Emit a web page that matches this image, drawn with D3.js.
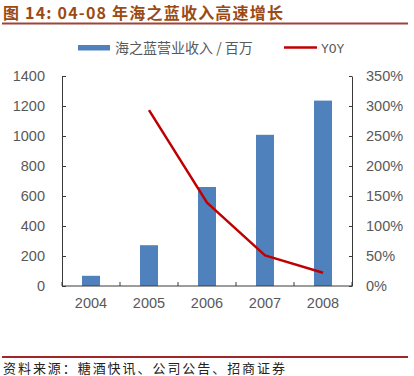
<!DOCTYPE html>
<html>
<head>
<meta charset="utf-8">
<script src="https://cdn.jsdelivr.net/npm/d3@7/dist/d3.min.js"></script>
<style>
	body { margin: 0; background: #fff; }
	svg { display: block; }
</style>
</head>
<body>
<svg id="chart" width="414" height="376"></svg>
<script>
// data
var years = ["2004", "2005", "2006", "2007", "2008"];
var revenue = [68, 272, 660, 1008, 1236];          // 海之蓝营业收入 / 百万
var yoy = [null, 2.93, 1.39, 0.51, 0.22];          // YOY
var leftTicks = [0, 200, 400, 600, 800, 1000, 1200, 1400];
var rightTicks = [0, 0.5, 1, 1.5, 2, 2.5, 3, 3.5];

var svg = d3.select("#chart");
var margin = {top: 76, left: 62, right: 352, bottom: 286};
var axisColor = "#3a3a3a",
	labelColor = "#595959",
	barColor = "#4f81bd",
	lineColor = "#c00000";

// title + rule
svg.append("text")
	.attr("x", 3)
	.attr("y", 19)
	.attr("font-family", "'Noto Sans CJK SC', sans-serif")
	.attr("font-weight", "bold")
	.attr("font-size", 16)
	.attr("fill", "#9b4a14")
	.attr("textLength", 280)
	.attr("lengthAdjust", "spacing")
	.text("图 14:  04-08 年海之蓝收入高速增长");

svg.append("line")
	.attr("x1", 2).attr("x2", 408)
	.attr("y1", 23.5).attr("y2", 23.5)
	.attr("stroke", "#a0443a")
	.attr("stroke-width", 2);

// scales
var x = d3.scaleBand()
	.domain(years)
	.range([margin.left, margin.right])
	.paddingInner(0.69)
	.paddingOuter(0.345);

var y = d3.scaleLinear()
	.domain([0, 1400])
	.range([margin.bottom, margin.top]);

var y2 = d3.scaleLinear()
	.domain([0, 3.5])
	.range([margin.bottom, margin.top]);

// bars
svg.append("g")
	.selectAll("rect")
	.data(years)
	.enter().append("rect")
	.attr("x", function(d) { return x(d); })
	.attr("width", x.bandwidth())
	.attr("y", function(d, i) { return y(revenue[i]); })
	.attr("height", function(d, i) { return y(0) - y(revenue[i]); })
	.attr("fill", barColor);

// axes
var leftAxis = svg.append("g")
	.attr("transform", "translate(" + margin.left + ",0)")
	.call(d3.axisLeft(y).tickValues(leftTicks).tickSizeInner(-4).tickSizeOuter(0).tickPadding(17)
		.tickFormat(d3.format("d")));

var rightAxis = svg.append("g")
	.attr("transform", "translate(" + margin.right + ",0)")
	.call(d3.axisRight(y2).tickValues(rightTicks).tickSizeInner(-3).tickSizeOuter(0).tickPadding(14)
		.tickFormat(function(d) { return Math.round(d * 100) + "%"; }));

var xTicks = d3.range(years.length + 1).map(function(i) { return margin.left + i * x.step(); });
var bottomAxis = svg.append("g")
	.attr("transform", "translate(0," + margin.bottom + ")");
bottomAxis.append("line")
	.attr("x1", margin.left).attr("x2", margin.right)
	.attr("stroke", axisColor);
bottomAxis.selectAll(".tick")
	.data(xTicks)
	.enter().append("line")
	.attr("x1", function(d) { return d; })
	.attr("x2", function(d) { return d; })
	.attr("y1", 0).attr("y2", -4)
	.attr("stroke", axisColor);
bottomAxis.selectAll(".lbl")
	.data(years)
	.enter().append("text")
	.attr("x", function(d) { return x(d) + x.bandwidth() / 2; })
	.attr("y", 22)
	.attr("text-anchor", "middle")
	.text(function(d) { return d; });

[leftAxis, rightAxis].forEach(function(a) {
	a.select(".domain").attr("stroke", axisColor);
	a.selectAll(".tick line").attr("stroke", axisColor);
});
svg.selectAll("g text")
	.attr("font-family", "'Liberation Sans', Arial, sans-serif")
	.attr("font-size", 14.5)
	.attr("fill", labelColor);

// YOY line
var line = d3.line()
	.defined(function(d) { return d.v !== null; })
	.x(function(d) { return x(d.year) + x.bandwidth() / 2; })
	.y(function(d) { return y2(d.v); });

svg.append("path")
	.datum(years.map(function(yr, i) { return {year: yr, v: yoy[i]}; }))
	.attr("d", line)
	.attr("fill", "none")
	.attr("stroke", lineColor)
	.attr("stroke-width", 2.5)
	.attr("stroke-linejoin", "round");

// legend
var legend = svg.append("g");
legend.append("rect")
	.attr("x", 78).attr("y", 45)
	.attr("width", 32).attr("height", 5.5)
	.attr("fill", barColor);
legend.append("text")
	.attr("x", 115).attr("y", 53)
	.attr("font-family", "'Noto Sans CJK SC', sans-serif")
	.attr("font-size", 14)
	.attr("fill", labelColor)
	.text("海之蓝营业收入 / 百万");
legend.append("line")
	.attr("x1", 284).attr("x2", 317)
	.attr("y1", 47.5).attr("y2", 47.5)
	.attr("stroke", lineColor)
	.attr("stroke-width", 2.5);
legend.append("text")
	.attr("x", 321).attr("y", 53)
	.attr("font-family", "'Liberation Mono', monospace")
	.attr("font-size", 13)
	.attr("fill", labelColor)
	.text("YOY");

// source rule + note
svg.append("line")
	.attr("x1", 2).attr("x2", 408)
	.attr("y1", 357).attr("y2", 357)
	.attr("stroke", "#a0262b")
	.attr("stroke-width", 2);

svg.append("text")
	.attr("x", 3)
	.attr("y", 373)
	.attr("font-family", "'Noto Sans CJK SC', sans-serif")
	.attr("font-size", 13)
	.attr("fill", "#222")
	.attr("textLength", 282)
	.attr("lengthAdjust", "spacing")
	.text("资料来源：糖酒快讯、公司公告、招商证券");
</script>
</body>
</html>
